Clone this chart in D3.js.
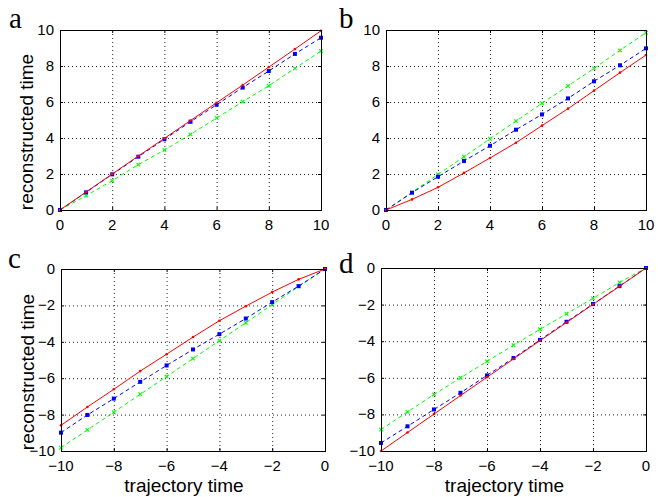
<!DOCTYPE html>
<html>
<head>
<meta charset="utf-8">
<script src="https://cdn.jsdelivr.net/npm/d3@7"></script>
<style>
  body { margin: 0; background: #fff; }
  text { font-family: "Liberation Sans", Arial, sans-serif; }
  .tick-label { font-size: 15px; }
  .axis-label { font-size: 19px; }
  .panel-letter { font-family: "Liberation Serif", "Times New Roman", serif; font-size: 29px; }
</style>
</head>
<body>
<svg id="chart" width="658" height="497"></svg>
<script>
// trajectory time points
var tPos = [0, 1, 2, 3, 4, 5, 6, 7, 8, 9, 10];
var tNeg = [-10, -9, -8, -7, -6, -5, -4, -3, -2, -1, 0];
var ticksPos = [0, 2, 4, 6, 8, 10];
var ticksNeg = [-10, -8, -6, -4, -2, 0];

// panel a
var aRed   = [0, 1.0, 2.0, 3.0, 3.98, 4.97, 5.96, 6.94, 7.94, 8.94, 9.96];
var aBlue  = [0, 0.98, 1.98, 2.96, 3.93, 4.9, 5.85, 6.8, 7.72, 8.67, 9.57];
var aGreen = [0, 0.8, 1.63, 2.52, 3.33, 4.2, 5.11, 6.02, 6.9, 7.87, 8.83];
// panel b
var bRed   = [0, 0.59, 1.26, 2.06, 2.89, 3.74, 4.69, 5.63, 6.63, 7.63, 8.61];
var bBlue  = [0, 0.96, 1.85, 2.72, 3.57, 4.46, 5.31, 6.2, 7.15, 8.04, 8.98];
var bGreen = [0, 0.98, 1.98, 2.96, 3.96, 4.94, 5.93, 6.89, 7.87, 8.87, 9.85];
// panel c
var cRed   = [-8.59, -7.58, -6.61, -5.61, -4.68, -3.74, -2.84, -2.04, -1.27, -0.57, 0];
var cBlue  = [-8.99, -8.02, -7.12, -6.2, -5.3, -4.42, -3.58, -2.72, -1.82, -0.94, 0];
var cGreen = [-9.82, -8.84, -7.87, -6.88, -5.91, -4.92, -3.94, -2.95, -1.96, -0.97, 0];
// panel d
var dRed   = [-10, -8.99, -7.98, -6.97, -5.97, -4.97, -3.97, -2.98, -1.99, -1.0, 0];
var dBlue  = [-9.56, -8.65, -7.73, -6.82, -5.87, -4.92, -3.93, -2.94, -1.97, -0.99, 0];
var dGreen = [-8.83, -7.86, -6.91, -6.0, -5.1, -4.22, -3.35, -2.5, -1.66, -0.79, 0];

var svg = d3.select("#chart");

var panels = [
  { letter: "a", lx: 9,   ly: 28,  box: [60, 30, 321, 210],  t: tPos, ticks: ticksPos, dom: [0, 10],  red: aRed, blue: aBlue, green: aGreen, ylab: true,  xlab: false },
  { letter: "b", lx: 339, ly: 28,  box: [386, 30, 646, 210], t: tPos, ticks: ticksPos, dom: [0, 10],  red: bRed, blue: bBlue, green: bGreen, ylab: false, xlab: false },
  { letter: "c", lx: 8,   ly: 268, box: [61, 269, 325, 451], t: tNeg, ticks: ticksNeg, dom: [-10, 0], red: cRed, blue: cBlue, green: cGreen, ylab: true,  xlab: true },
  { letter: "d", lx: 339, ly: 273, box: [381, 268, 646, 451], t: tNeg, ticks: ticksNeg, dom: [-10, 0], red: dRed, blue: dBlue, green: dGreen, ylab: false, xlab: true }
];

panels.forEach(drawPanel);

function fmt(v) {
  return v < 0 ? "\u2212" + Math.abs(v) : String(v);
}

function drawPanel(p) {
  var x0 = p.box[0], y0 = p.box[1], x1 = p.box[2], y1 = p.box[3];
  var x = d3.scaleLinear().domain(p.dom).range([x0, x1]);
  var y = d3.scaleLinear().domain(p.dom).range([y1, y0]);
  var g = svg.append("g");

  // dotted grid
  g.selectAll(".vgrid").data(p.ticks.slice(1, -1)).enter().append("line")
    .attr("x1", d => x(d) + 0.5).attr("x2", d => x(d) + 0.5)
    .attr("y1", y0).attr("y2", y1)
    .attr("stroke", "#222").attr("stroke-dasharray", "1,3");
  g.selectAll(".hgrid").data(p.ticks.slice(1, -1)).enter().append("line")
    .attr("y1", d => y(d) + 0.5).attr("y2", d => y(d) + 0.5)
    .attr("x1", x0).attr("x2", x1)
    .attr("stroke", "#222").attr("stroke-dasharray", "1,3");

  // inward ticks on all sides
  var tl = 3;
  p.ticks.forEach(function(d) {
    g.append("line").attr("x1", x(d) + 0.5).attr("x2", x(d) + 0.5).attr("y1", y1).attr("y2", y1 - tl).attr("stroke", "#000");
    g.append("line").attr("x1", x(d) + 0.5).attr("x2", x(d) + 0.5).attr("y1", y0).attr("y2", y0 + tl).attr("stroke", "#000");
    g.append("line").attr("y1", y(d) + 0.5).attr("y2", y(d) + 0.5).attr("x1", x0).attr("x2", x0 + tl).attr("stroke", "#000");
    g.append("line").attr("y1", y(d) + 0.5).attr("y2", y(d) + 0.5).attr("x1", x1).attr("x2", x1 - tl).attr("stroke", "#000");
  });

  // tick labels
  g.selectAll(".xt").data(p.ticks).enter().append("text")
    .attr("class", "tick-label")
    .attr("x", d => x(d)).attr("y", y1 + 20)
    .attr("text-anchor", "middle")
    .text(fmt);
  g.selectAll(".yt").data(p.ticks).enter().append("text")
    .attr("class", "tick-label")
    .attr("x", x0 - 6).attr("y", d => y(d) + 5)
    .attr("text-anchor", "end")
    .text(fmt);

  // series
  var series = [
    { vals: p.green, color: "#00ff00", dash: "4,3", mark: "x" },
    { vals: p.blue,  color: "#0000ff", dash: "4,3", mark: "square" },
    { vals: p.red,   color: "#ff0000", dash: null,  mark: "dot" }
  ];
  series.forEach(function(s) {
    var pts = p.t.map((t, i) => [t, s.vals[i]]);
    var line = d3.line().x(d => x(d[0])).y(d => y(d[1]));
    g.append("path").datum(pts)
      .attr("d", line)
      .attr("fill", "none")
      .attr("stroke", s.color)
      .attr("stroke-width", 1)
      .attr("stroke-dasharray", s.dash);
    var m = g.selectAll(null).data(pts).enter();
    if (s.mark == "square") {
      m.append("rect")
        .attr("x", d => x(d[0]) - 2).attr("y", d => y(d[1]) - 2)
        .attr("width", 4).attr("height", 4)
        .attr("fill", s.color);
    } else if (s.mark == "x") {
      m.append("path")
        .attr("d", function(d) {
          var cx = x(d[0]), cy = y(d[1]), r = 1.8;
          return "M" + (cx - r) + "," + (cy - r) + "L" + (cx + r) + "," + (cy + r) +
                 "M" + (cx - r) + "," + (cy + r) + "L" + (cx + r) + "," + (cy - r);
        })
        .attr("stroke", s.color).attr("stroke-width", 1.1);
    } else {
      m.append("circle")
        .attr("cx", d => x(d[0])).attr("cy", d => y(d[1]))
        .attr("r", 1.3).attr("fill", s.color);
    }
  });

  // box
  g.append("rect")
    .attr("x", x0 + 0.5).attr("y", y0 + 0.5)
    .attr("width", x1 - x0).attr("height", y1 - y0)
    .attr("fill", "none").attr("stroke", "#000");

  // labels
  g.append("text").attr("class", "panel-letter")
    .attr("x", p.lx).attr("y", p.ly).text(p.letter);
  if (p.ylab) {
    g.append("text").attr("class", "axis-label")
      .attr("text-anchor", "middle")
      .attr("transform", "translate(" + (x0 - 27) + "," + ((y0 + y1) / 2 + 12) + ") rotate(-90)")
      .text("reconstructed time");
  }
  if (p.xlab) {
    g.append("text").attr("class", "axis-label")
      .attr("text-anchor", "middle")
      .attr("x", (x0 + x1) / 2 - 9).attr("y", y1 + 41)
      .text("trajectory time");
  }
}
</script>
</body>
</html>
